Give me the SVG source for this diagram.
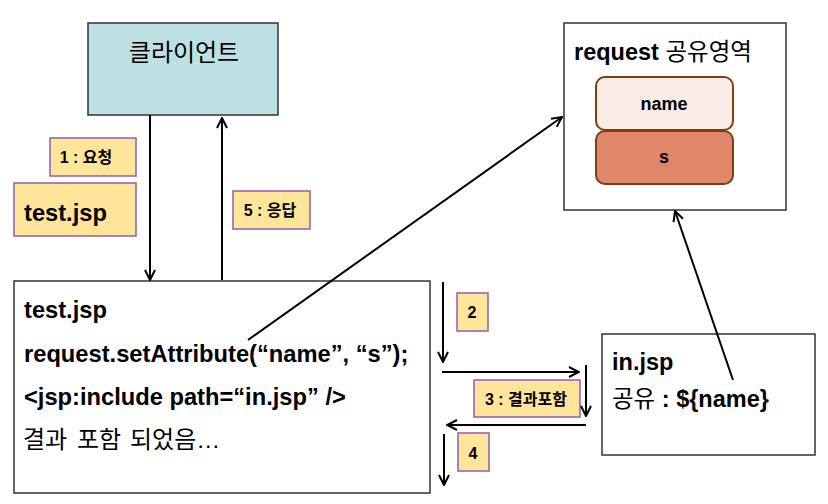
<svg xmlns="http://www.w3.org/2000/svg" width="828" height="504" viewBox="0 0 828 504">
<defs>
<marker id="ah" viewBox="0 0 12 12" refX="11" refY="6" markerWidth="12" markerHeight="12" markerUnits="userSpaceOnUse" orient="auto">
<polyline points="1,1 11,6 1,11" fill="none" stroke="#000" stroke-width="2"/>
</marker>
<style>
.box{fill:#fff;stroke:#333;stroke-width:1.5}
.lbl{fill:#FFE59A;stroke:#8E5CB5;stroke-width:1.5}
.t{font-family:"Liberation Sans","Noto Sans CJK KR",sans-serif;fill:#000}
.b{font-weight:bold}
.c{stroke:#000;stroke-width:2;fill:none;marker-end:url(#ah)}
</style>
</defs>
<rect width="828" height="504" fill="#fff"/>
<g id="client">
<rect x="88" y="23" width="190" height="92" fill="#BDE0E3" stroke="#333" stroke-width="1.5"/>
<text class="t" x="184" y="61" font-size="24" text-anchor="middle">클라이언트</text>
</g>
<g id="label1">
<rect class="lbl" x="50" y="138" width="86" height="38"/>
<text class="t b" x="86" y="163" font-size="16" text-anchor="middle">1 : 요청</text>
</g>
<g id="label-testjsp">
<rect class="lbl" x="14" y="183" width="122" height="53"/>
<text class="t b" x="24" y="221" font-size="23.7">test.jsp</text>
</g>
<g id="label5">
<rect class="lbl" x="233" y="191" width="77" height="38"/>
<text class="t b" x="270" y="216" font-size="16" text-anchor="middle">5 : 응답</text>
</g>
<g id="testjsp">
<rect class="box" x="14" y="281" width="416" height="212"/>
<text class="t b" x="24" y="318" font-size="23.7">test.jsp</text>
<text class="t b" x="24" y="362" font-size="23.7">request.setAttribute(“name”, “s”);</text>
<text class="t b" x="24" y="405" font-size="23.7">&lt;jsp:include path=“in.jsp” /&gt;</text>
<text class="t" y="448" font-size="24"><tspan x="23">결과</tspan> <tspan x="77">포함</tspan> <tspan x="130">되었음…</tspan></text>
</g>
<g id="request">
<rect class="box" x="564" y="23" width="222" height="187"/>
<text class="t" x="574" y="60" font-size="23.5"><tspan class="b">request</tspan> 공유영역</text>
<rect x="596" y="77" width="137" height="53" rx="9" fill="#FAEBE6" stroke="#7B3F10" stroke-width="2"/>
<text class="t b" x="664" y="110" font-size="18" text-anchor="middle">name</text>
<rect x="596" y="131" width="137" height="53" rx="9" fill="#E0866A" stroke="#7B3F10" stroke-width="2"/>
<text class="t b" x="664" y="163" font-size="18" text-anchor="middle">s</text>
</g>
<g id="injsp">
<rect class="box" x="602" y="334" width="213" height="121"/>
<text class="t b" x="612" y="370" font-size="23.5">in.jsp</text>
<text class="t" x="612" y="407" font-size="23.5">공유 <tspan class="b">: ${name}</tspan></text>
</g>
<g id="label2">
<rect class="lbl" x="457" y="293" width="31" height="38"/>
<text class="t b" x="472" y="318" font-size="16" text-anchor="middle">2</text>
</g>
<g id="label3">
<rect class="lbl" x="474" y="380" width="106" height="37"/>
<text class="t b" x="526" y="405" font-size="16" text-anchor="middle">3 : 결과포함</text>
</g>
<g id="label4">
<rect class="lbl" x="458" y="433" width="31" height="38"/>
<text class="t b" x="473" y="459" font-size="16" text-anchor="middle">4</text>
</g>
<g id="connectors">
<line class="c" x1="150" y1="115" x2="150" y2="280"/>
<line class="c" x1="222" y1="280" x2="222" y2="118"/>
<line class="c" x1="248" y1="340" x2="562" y2="117"/>
<line class="c" x1="733" y1="380" x2="675" y2="211"/>
<line class="c" x1="443" y1="282" x2="443" y2="362"/>
<line class="c" x1="442" y1="372" x2="579" y2="372"/>
<line class="c" x1="586" y1="365" x2="586" y2="416"/>
<line class="c" x1="586" y1="425" x2="447" y2="425"/>
<line class="c" x1="444" y1="434" x2="444" y2="485"/>
</g>
</svg>
